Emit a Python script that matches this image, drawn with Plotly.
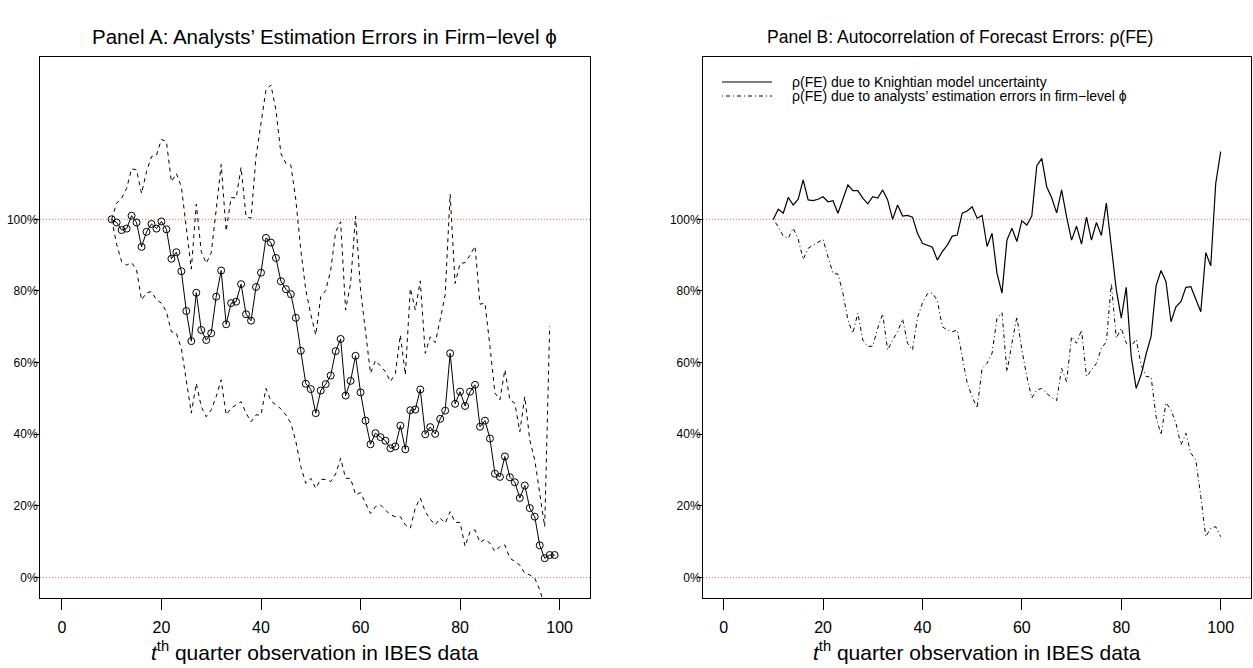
import plotly.graph_objects as go

# ---------------- data ----------------
t_a = list(range(10, 100))
ratio_a = [100, 99.1, 97.0, 97.4, 101.0, 99.1, 92.3, 96.5, 98.7, 97.4,
           99.4, 97.2, 89.0, 90.8, 85.5, 74.4, 66.0, 79.5, 69.1, 66.3,
           68.2, 78.4, 85.7, 70.7, 76.6, 77.0, 81.9, 73.5, 71.7, 81.1,
           85.1, 94.8, 93.5, 89.2, 82.7, 80.5, 79.1, 72.5, 63.3, 54.1,
           52.6, 45.9, 52.2, 54.0, 56.4, 63.2, 66.6, 50.8, 54.9, 61.9,
           51.7, 43.8, 37.2, 40.3, 39.2, 38.2, 36.1, 36.6, 42.4, 35.8,
           46.7, 46.9, 52.5, 40.0, 42.0, 40.1, 44.3, 46.6, 62.6, 48.5,
           51.9, 47.9, 51.9, 53.8, 42.1, 43.8, 38.8, 29.0, 28.1, 33.8,
           28.0, 26.6, 22.2, 25.7, 19.4, 17.0, 9.0, 5.4, 6.3, 6.3]

t_band = list(range(10, 99))
upper_a = [100, 104.5, 105.9, 108.6, 114.1, 113.8, 107.2, 113.3, 117.5, 117.9,
           122.3, 121.7, 110.5, 112.8, 109.1, 97.0, 86.1, 104.2, 91.0, 87.7,
           90.7, 102.6, 115.3, 96.7, 106.1, 105.9, 114.5, 100.7, 100.3, 117.5,
           126.3, 136.1, 137.5, 130.5, 118.4, 115.6, 115.1, 105.4, 91.4, 80.3,
           73.5, 67.7, 78.4, 80.1, 85.8, 96.5, 99.3, 74.7, 82.1, 100.9,
           80.3, 68.2, 57.0, 60.6, 58.9, 57.5, 54.7, 57.0, 67.7, 56.6,
           80.7, 74.7, 82.8, 62.6, 67.2, 65.6, 72.0, 78.9, 107.0, 82.1,
           87.7, 87.9, 90.0, 92.5, 76.3, 76.6, 64.5, 51.5, 49.6, 58.0,
           49.6, 48.7, 40.7, 50.5, 38.4, 32.8, 23.5, 14.2, 70.2]
lower_a = [100, 93.0, 88.2, 87.2, 87.9, 85.9, 77.5, 79.5, 79.8, 77.5,
           76.6, 74.2, 68.6, 68.2, 64.0, 54.7, 45.9, 54.2, 47.7, 44.9,
           46.8, 50.5, 55.2, 45.4, 47.3, 48.2, 49.1, 45.9, 43.5, 45.4,
           45.4, 52.8, 49.3, 48.2, 47.1, 45.4, 43.1, 38.0, 31.0, 26.3,
           27.7, 24.9, 27.4, 27.4, 26.8, 28.9, 33.3, 27.7, 27.7, 23.1,
           23.7, 20.8, 17.9, 19.8, 20.3, 18.9, 17.5, 17.0, 17.0, 14.7,
           13.8, 19.4, 22.2, 18.4, 16.3, 14.7, 16.6, 15.2, 18.4, 15.4,
           15.4, 8.7, 12.8, 13.3, 9.8, 10.7, 9.6, 7.3, 8.7, 9.1,
           5.4, 4.5, 3.5, 1.2, 0.75, -0.2, -3.4, -8.0, -6.5]

t_b = list(range(10, 101))
rho_knight = [100, 102.8, 101.7, 106.1, 104.0, 105.6, 111.0, 105.4, 105.2, 105.6,
              106.3, 104.9, 105.2, 101.7, 105.6, 109.6, 108.0, 108.0, 105.9, 104.3,
              106.3, 105.9, 108.2, 105.4, 100.0, 104.0, 100.9, 101.1, 100.6, 96.1,
              93.3, 92.8, 92.2, 88.6, 91.0, 92.8, 95.3, 95.6, 101.7, 102.3,
              103.5, 100.3, 101.1, 92.4, 96.1, 84.9, 79.4, 94.2, 97.5, 93.8,
              99.6, 98.4, 100.9, 114.9, 117.0, 109.1, 106.0, 101.8, 108.2, 100.7,
              94.2, 98.1, 93.1, 100.6, 94.2, 99.1, 95.5, 104.5, 92.0, 80.3,
              72.4, 81.0, 61.7, 52.8, 56.6, 62.4, 67.3, 81.4, 85.7, 82.6,
              71.4, 75.6, 77.0, 81.0, 81.2, 77.9, 74.2, 90.7, 87.0, 110.0,
              118.9]
rho_analyst = [100, 97.9, 95.3, 94.7, 97.5, 94.5, 88.8, 91.9, 92.8, 93.5,
               94.4, 89.5, 84.9, 84.7, 79.4, 71.9, 68.2, 73.8, 66.3, 64.5,
               64.6, 69.6, 73.6, 63.5, 66.3, 68.6, 72.2, 65.4, 63.5, 72.6,
               76.6, 79.2, 79.4, 77.3, 70.0, 69.1, 68.6, 69.1, 61.7, 54.3,
               50.5, 47.3, 58.4, 59.8, 62.6, 72.4, 73.9, 57.5, 65.4, 72.8,
               63.5, 56.1, 50.1, 52.4, 52.8, 51.4, 50.3, 49.4, 58.4, 54.7,
               67.3, 65.4, 69.1, 56.1, 57.9, 59.8, 64.0, 65.8, 82.1, 66.8,
               69.6, 65.4, 64.6, 66.5, 59.3, 56.1, 56.0, 44.9, 39.8, 48.8,
               46.8, 43.1, 37.0, 40.3, 34.7, 32.8, 22.6, 11.4, 13.8, 14.2,
               11.4]

x_ticks = [0, 20, 40, 60, 80, 100]
y_ticks = [0, 20, 40, 60, 80, 100]
y_tick_labels = ["0%", "20%", "40%", "60%", "80%", "100%"]
ref_levels = [0, 100]

title_a = "Panel A: Analysts\u2019 Estimation Errors in Firm\u2212level \u03d5"
title_b = "Panel B: Autocorrelation of Forecast Errors: \u03c1(FE)"
x_title = "<i>t</i><sup>th</sup> quarter observation in IBES data"
legend_labels = ["\u03c1(FE) due to Knightian model uncertainty",
                 "\u03c1(FE) due to analysts\u2019 estimation errors in firm\u2212level \u03d5"]

# ---------------- figure ----------------
W, H = 1253, 668
FONT = "Liberation Sans, Arial, Helvetica, sans-serif"

def px(xp):
    return xp / W

def py(yp):
    return (H - yp) / H

fig = go.Figure()

fig.add_trace(go.Scatter(x=t_band, y=upper_a, mode="lines",
                         line=dict(color="black", width=1, dash="4px,4px"),
                         xaxis="x", yaxis="y"))
fig.add_trace(go.Scatter(x=t_band, y=lower_a, mode="lines",
                         line=dict(color="black", width=1, dash="4px,4px"),
                         xaxis="x", yaxis="y"))
fig.add_trace(go.Scatter(x=t_a, y=ratio_a, mode="lines+markers",
                         line=dict(color="black", width=1),
                         marker=dict(symbol="circle-open", size=7, color="black",
                                     line=dict(width=1, color="black")),
                         xaxis="x", yaxis="y"))

fig.add_trace(go.Scatter(x=t_b, y=rho_knight, mode="lines",
                         line=dict(color="black", width=1.2),
                         xaxis="x2", yaxis="y2"))
fig.add_trace(go.Scatter(x=t_b, y=rho_analyst, mode="lines",
                         line=dict(color="black", width=1, dash="1px,3px,4px,3px"),
                         xaxis="x2", yaxis="y2"))

xcommon = dict(tickvals=x_ticks, ticks="outside", ticklen=11, tickwidth=1,
               tickcolor="black", showline=True, mirror=True, linecolor="black",
               linewidth=1, showgrid=False, zeroline=False, ticklabelstandoff=4,
               tickfont=dict(size=16, family=FONT, color="black"))
ycommon = dict(tickvals=y_ticks, ticktext=y_tick_labels, range=[-5.7, 145.3],
               ticks="outside", ticklen=5, tickwidth=1, tickcolor="black",
               showline=True, mirror=True, linecolor="black", linewidth=1,
               showgrid=False, zeroline=False, ticklabelstandoff=-6,
               tickfont=dict(size=12, family=FONT, color="black"),
               domain=[py(598), py(57)])

fig.update_layout(
    width=W, height=H,
    margin=dict(l=0, r=0, t=0, b=0),
    paper_bgcolor="white", plot_bgcolor="white",
    showlegend=False,
    font=dict(family=FONT, color="black"),
    xaxis=dict(domain=[px(40), px(590)], range=[-4.4, 106.1], anchor="y", **xcommon),
    yaxis=dict(anchor="x", **ycommon),
    xaxis2=dict(domain=[px(703), px(1251)], range=[-4.15, 106.1], anchor="y2", **xcommon),
    yaxis2=dict(anchor="x2", **ycommon),
)

shapes = []
for xr, yr in (("x domain", "y"), ("x2 domain", "y2")):
    for lv in ref_levels:
        shapes.append(dict(type="line", xref=xr, yref=yr, x0=0, x1=1, y0=lv, y1=lv,
                           line=dict(color="rgb(255,95,95)", width=1, dash="1px,2px"),
                           layer="below"))
# legend samples (panel B)
shapes.append(dict(type="line", xref="paper", yref="paper", x0=px(722), x1=px(772),
                   y0=py(82), y1=py(82), line=dict(color="black", width=1.2)))
shapes.append(dict(type="line", xref="paper", yref="paper", x0=px(722), x1=px(772),
                   y0=py(96), y1=py(96),
                   line=dict(color="black", width=1, dash="1px,3px,4px,3px")))
fig.update_layout(shapes=shapes)

ann = []
ann.append(dict(text=title_a, x=px(325), y=py(37), xref="paper", yref="paper",
                showarrow=False, xanchor="center", yanchor="middle",
                font=dict(size=20.5, family=FONT, color="black")))
ann.append(dict(text=title_b, x=px(960), y=py(37), xref="paper", yref="paper",
                showarrow=False, xanchor="center", yanchor="middle",
                font=dict(size=17.5, family=FONT, color="black")))
for cx in (315, 977):
    ann.append(dict(text=x_title, x=px(cx), y=py(651), xref="paper", yref="paper",
                    showarrow=False, xanchor="center", yanchor="middle",
                    font=dict(size=21, family=FONT, color="black")))
for lbl, yy in zip(legend_labels, (82, 96)):
    ann.append(dict(text=lbl, x=px(790), y=py(yy), xref="paper", yref="paper",
                    showarrow=False, xanchor="left", yanchor="middle",
                    font=dict(size=14, family=FONT, color="black")))
fig.update_layout(annotations=ann)

fig.write_html("out.html",
               config={"displayModeBar": False},
               post_script="document.body.style.margin='0px';"
                           "document.body.style.padding='0px';"
                           "document.body.style.overflow='hidden';")
